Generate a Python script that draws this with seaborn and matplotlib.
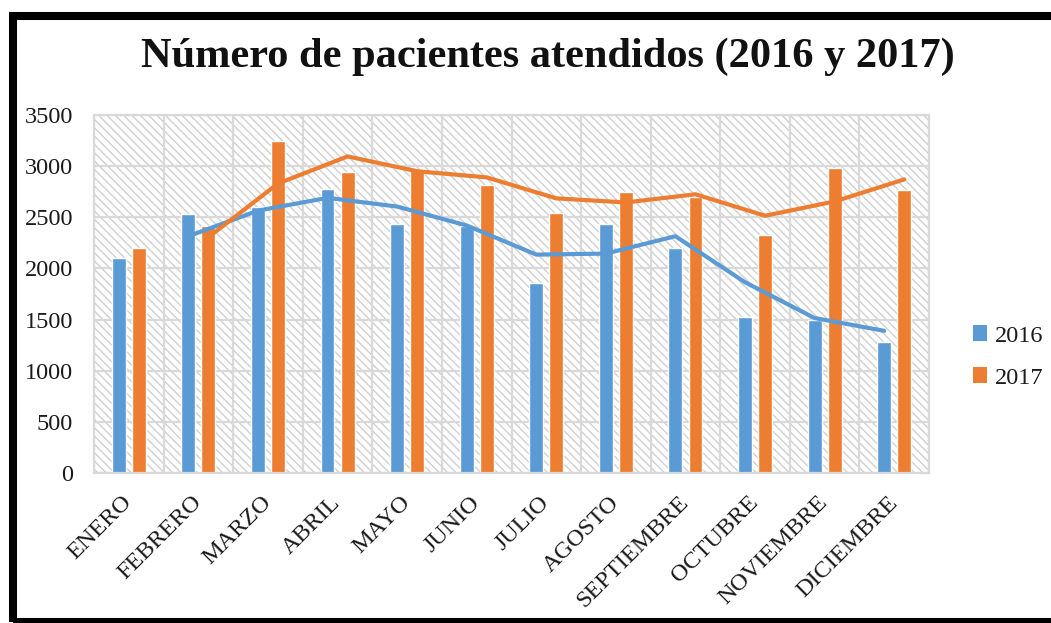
import numpy as np
import pandas as pd
import matplotlib
matplotlib.use("Agg")
import matplotlib.pyplot as plt
from matplotlib.patches import Rectangle, Patch
import seaborn as sns

# ---- data ----
meses = ["ENERO", "FEBRERO", "MARZO", "ABRIL", "MAYO", "JUNIO", "JULIO",
         "AGOSTO", "SEPTIEMBRE", "OCTUBRE", "NOVIEMBRE", "DICIEMBRE"]
pac_2016 = [2100, 2530, 2600, 2780, 2430, 2410, 1860, 2430, 2200, 1530, 1500, 1280]
pac_2017 = [2200, 2410, 3250, 2940, 2960, 2820, 2545, 2745, 2700, 2330, 2980, 2765]
# moving-average trend lines as drawn (FEBRERO .. DICIEMBRE)
tend_2016 = [2315, 2565, 2690, 2605, 2420, 2135, 2145, 2315, 1865, 1515, 1390]
tend_2017 = [2305, 2830, 3095, 2950, 2890, 2685, 2645, 2725, 2515, 2655, 2870]
series = ["2016", "2017"]
y_ticks = [0, 500, 1000, 1500, 2000, 2500, 3000, 3500]
titulo = "Número de pacientes atendidos (2016 y 2017)"

BLUE = "#5B9BD5"
ORANGE = "#ED7D31"
GRID = "#d9d9d9"

sns.set_theme(style="white")
plt.rcParams["font.family"] = ["Liberation Serif", "DejaVu Serif"]
plt.rcParams["hatch.color"] = "#d0d0d0"
plt.rcParams["hatch.linewidth"] = 1.0

df = pd.DataFrame({
    "mes": meses * 2,
    "valor": pac_2016 + pac_2017,
    "serie": [series[0]] * len(meses) + [series[1]] * len(meses),
})

fig = plt.figure(figsize=(10.51, 6.23), dpi=100)
ax = fig.add_axes([94 / 1051, 1 - 473 / 623, (929 - 94) / 1051, (473 - 115) / 623])

# hatched plot background
ax.add_patch(Rectangle((0, 0), 1, 1, transform=ax.transAxes, facecolor="white",
                       edgecolor="#d0d0d0", hatch="\\\\\\\\", lw=0, zorder=0.1))

sns.barplot(data=df, x="mes", y="valor", hue="serie", palette=[BLUE, ORANGE],
            width=0.577, gap=0.307, saturation=1, legend=False, ax=ax, zorder=2)

off = 0.577 / 4
xs = np.arange(1, len(meses))
sns.lineplot(x=xs - off, y=tend_2016, color=BLUE, lw=3, ax=ax, zorder=3)
sns.lineplot(x=xs + off, y=tend_2017, color=ORANGE, lw=3, ax=ax, zorder=3)

ax.set_xlim(-0.5, len(meses) - 0.5)
ax.set_ylim(0, 3500)
ax.set_yticks(y_ticks)
ax.set_yticklabels([str(v) for v in y_ticks])
ax.set_xticks(np.arange(len(meses)))
ax.set_xticks(np.arange(-0.5, len(meses), 1), minor=True)
ax.set_xticklabels(meses, rotation=45, ha="right", va="center",
                   rotation_mode="anchor")
ax.set_xlabel("")
ax.set_ylabel("")

ax.set_axisbelow(True)
ax.grid(False)
ax.yaxis.grid(True, color=GRID, lw=1.6, zorder=0.5)
ax.xaxis.grid(True, which="minor", color=GRID, lw=1.6, zorder=0.5)
for s in ax.spines.values():
    s.set_visible(True)
    s.set_color(GRID)
    s.set_linewidth(1.6)

ax.tick_params(axis="y", length=0, pad=15, labelsize=17.5, labelcolor="#1a1a1a")
ax.tick_params(axis="x", which="both", length=0, pad=19, labelsize=17.5,
               labelcolor="#1a1a1a")

handles = [Patch(facecolor=BLUE, edgecolor="none"),
           Patch(facecolor=ORANGE, edgecolor="none")]
fig.legend(handles, series, loc="center left",
           bbox_to_anchor=(951 / 1051, 1 - 357 / 623), frameon=False,
           fontsize=17.5, handlelength=0.6, handleheight=0.6, handletextpad=0.3,
           labelspacing=0.85, labelcolor="#1a1a1a")

fig.text(548 / 1051, 1 - 57 / 623, titulo, ha="center", va="center",
         fontsize=30.5, fontweight="bold", color="#111111")

# black frame around the chart
fig.add_artist(Rectangle((12.5 / 1051, 1.0 / 623), 1.1, 1 - 1.0 / 623 - 16 / 623,
                         transform=fig.transFigure, facecolor="none",
                         edgecolor="black", lw=5.8, clip_on=False))

fig.savefig("out.png", dpi=100)
